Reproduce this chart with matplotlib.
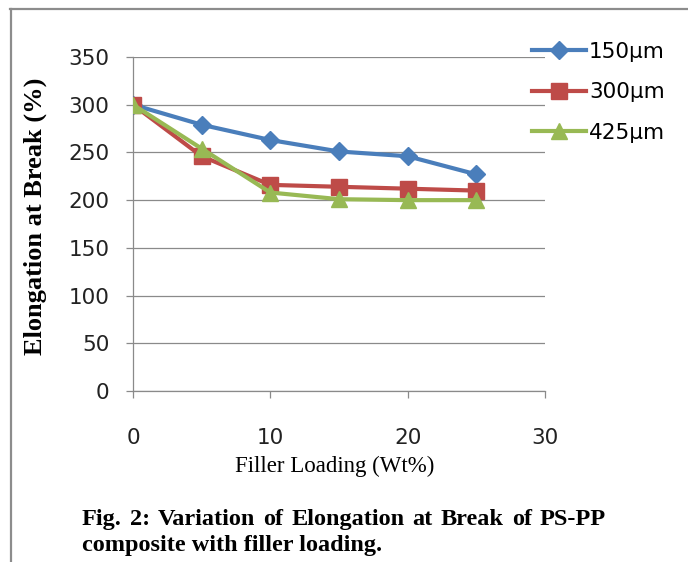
import matplotlib
matplotlib.use("Agg")
import matplotlib.pyplot as plt
from matplotlib.lines import Line2D

# data
loading = [0, 5, 10, 15, 20, 25]
elong_150 = [300, 279, 263, 251, 246, 227]
elong_300 = [300, 246, 216, 214, 212, 210]
elong_425 = [300, 254, 208, 201, 200, 200]
series_labels = ["150\u00b5m", "300\u00b5m", "425\u00b5m"]
x_ticks = [0, 10, 20, 30]
y_ticks = [0, 50, 100, 150, 200, 250, 300, 350]

W, H = 688, 562
fig = plt.figure(figsize=(W / 100, H / 100), dpi=100)
fig.patch.set_facecolor("white")

# frame lines (top and left only, as in the scanned figure)
fig.add_artist(Line2D([10 / W, 1], [1 - 9 / H, 1 - 9 / H], color="#8c8c8c", lw=1.6))
fig.add_artist(Line2D([11 / W, 11 / W], [0, 1 - 9 / H], color="#8c8c8c", lw=1.6))

ax = fig.add_axes([133 / W, 1 - 391 / H, (545 - 133) / W, (391 - 57) / H])

ax.plot(loading, elong_150, color="#4A7EBB", lw=3, marker="D", ms=9,
        label=series_labels[0], zorder=3)
ax.plot(loading, elong_300, color="#BE4B48", lw=3, marker="s", ms=11,
        label=series_labels[1], zorder=4)
ax.plot(loading, elong_425, color="#98B954", lw=3, marker="^", ms=12,
        label=series_labels[2], zorder=5)

ax.set_xlim(0, 30)
ax.set_ylim(0, 350)
ax.set_xticks(x_ticks)
ax.set_yticks(y_ticks)
ax.grid(axis="y", color="#8a8a8a", lw=0.9)
ax.set_axisbelow(True)
for s in ["top", "right"]:
    ax.spines[s].set_visible(False)
for s in ["left", "bottom"]:
    ax.spines[s].set_color("#8a8a8a")
    ax.spines[s].set_linewidth(0.9)
ax.tick_params(axis="both", colors="#8a8a8a", labelcolor="#222222",
               labelsize=15.5, length=5, width=0.9)
ax.tick_params(axis="x", pad=22)
ax.tick_params(axis="y", pad=12)
for lab in ax.get_xticklabels() + ax.get_yticklabels():
    lab.set_family("DejaVu Sans")

fig.legend(loc="upper left", bbox_to_anchor=(532 / W, 1 - 42 / H),
           frameon=False, fontsize=15.5, handlelength=2.5, handletextpad=0.15,
           labelspacing=0.95, borderaxespad=0, borderpad=0)

serif = "Liberation Serif"
fig.text(35 / W, 1 - 216 / H, "Elongation at Break (%)", rotation=90,
         ha="center", va="center", family=serif, weight="bold", fontsize=19)
fig.text(335 / W, 1 - 466 / H, "Filler Loading (Wt%)", ha="center", va="center",
         family=serif, fontsize=16.5)


def justified_line(words, x0, x1, y, **kw):
    # spread the words so the line fills x0..x1 (pixels), like the printed caption
    renderer = fig.canvas.get_renderer()
    texts = [fig.text(0, y / H, w, va="baseline", ha="left", **kw) for w in words]
    widths = [t.get_window_extent(renderer).width for t in texts]
    gap = (x1 - x0 - sum(widths)) / (len(words) - 1)
    x = x0
    for t, w in zip(texts, widths):
        t.set_x(x / W)
        x += w + gap


cap_kw = dict(family=serif, weight="bold", fontsize=17.5)
justified_line("Fig. 2: Variation of Elongation at Break of PS-PP".split(),
               82, 606, H - 525, **cap_kw)
fig.text(82 / W, 1 - 551 / H, "composite with filler loading.", ha="left",
         va="baseline", **cap_kw)

fig.savefig("out.png", dpi=100, facecolor="white")
